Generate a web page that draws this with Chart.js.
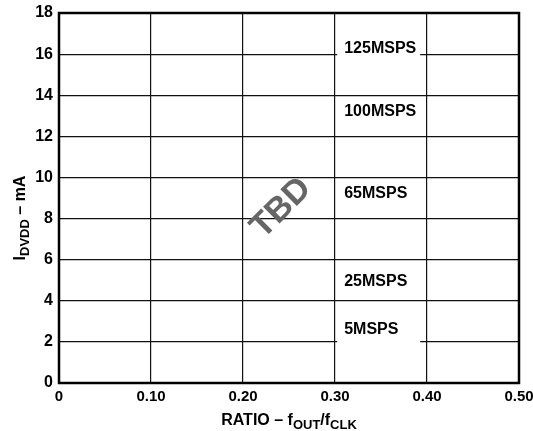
<!DOCTYPE html>
<html>
<head>
<meta charset="utf-8">
<script src="https://cdn.jsdelivr.net/npm/chart.js@4.4.1/dist/chart.umd.min.js"></script>
<style>
  body { margin: 0; background: #fff; }
  #chart { display: block; }
</style>
</head>
<body>
<canvas id="chart" width="533" height="431"></canvas>
<script>
// curve labels (no measured curves yet - datasheet says TBD)
const curveNames = ['125MSPS', '100MSPS', '65MSPS', '25MSPS', '5MSPS'];
const curveLabelY = [16.28, 13.19, 9.2, 4.91, 2.6];
const curveLabelX = 0.31;

const xTicks = [0, 0.1, 0.2, 0.3, 0.4, 0.5];
const yTicks = [0, 2, 4, 6, 8, 10, 12, 14, 16, 18];

const FONT = '"Liberation Sans", Arial, Helvetica, sans-serif';

// draw text made of normal + subscript parts, centered at (0,0) of current transform
function drawRichText(ctx, parts, size, subSize) {
    let total = 0;
    parts.forEach(p => {
        ctx.font = 'bold ' + (p.sub ? subSize : size) + 'px ' + FONT;
        p.w = ctx.measureText(p.t).width;
        total += p.w;
    });
    let x = -total / 2;
    ctx.textBaseline = 'alphabetic';
    ctx.textAlign = 'left';
    parts.forEach(p => {
        ctx.font = 'bold ' + (p.sub ? subSize : size) + 'px ' + FONT;
        ctx.fillText(p.t, x, p.sub ? 4 : 0);
        x += p.w;
    });
}

const overlay = {
    id: 'overlay',
    afterDraw(chart) {
        const ctx = chart.ctx;
        const xs = chart.scales.x, ys = chart.scales.y;
        const a = chart.chartArea;

        // frame
        ctx.save();
        ctx.strokeStyle = '#000';
        ctx.lineWidth = 2.5;
        ctx.strokeRect(a.left, a.top, a.right - a.left, a.bottom - a.top);
        ctx.restore();

        // curve labels on white boxes (boxes all the same width)
        ctx.save();
        ctx.font = 'bold 16px ' + FONT;
        ctx.textBaseline = 'middle';
        ctx.textAlign = 'left';
        curveNames.forEach((name, i) => {
            const px = xs.getPixelForValue(curveLabelX);
            const py = ys.getPixelForValue(curveLabelY[i]);
            ctx.fillStyle = '#fff';
            ctx.fillRect(px - 7, py - 11, 83, 26);
            ctx.fillStyle = '#000';
            ctx.fillText(name, px, py);
        });
        ctx.restore();

        // TBD watermark
        ctx.save();
        ctx.translate(xs.getPixelForValue(0.2416), ys.getPixelForValue(8.5));
        ctx.rotate(-Math.PI / 4);
        ctx.font = 'bold 34px ' + FONT;
        ctx.fillStyle = '#666';
        ctx.textAlign = 'center';
        ctx.textBaseline = 'middle';
        ctx.fillText('TBD', 0, 0);
        ctx.restore();

        // x title
        ctx.save();
        ctx.fillStyle = '#000';
        ctx.translate((a.left + a.right) / 2, 425);
        drawRichText(ctx, [{t: 'RATIO – f'}, {t: 'OUT', sub: true}, {t: '/f'}, {t: 'CLK', sub: true}], 16, 13);
        ctx.restore();

        // y title
        ctx.save();
        ctx.fillStyle = '#000';
        ctx.translate(25, 218);
        ctx.rotate(-Math.PI / 2);
        drawRichText(ctx, [{t: 'I'}, {t: 'DVDD', sub: true}, {t: ' – mA'}], 16, 13);
        ctx.restore();
    }
};

new Chart(document.getElementById('chart'), {
    type: 'scatter',
    data: { datasets: [{ data: [] }] },
    options: {
        responsive: false,
        animation: false,
        layout: { padding: { top: 13, right: 14, left: 0, bottom: 0 } },
        plugins: { legend: { display: false }, tooltip: { enabled: false } },
        scales: {
            x: {
                type: 'linear',
                min: xTicks[0],
                max: xTicks[xTicks.length - 1],
                afterBuildTicks: s => { s.ticks = xTicks.map(v => ({ value: v })); },
                afterFit: s => { s.height = 48; s.paddingLeft = 0; s.paddingRight = 0; },
                grid: { color: '#111', lineWidth: 1.2, drawTicks: false },
                border: { color: '#000', width: 2 },
                ticks: {
                    padding: 5,
                    color: '#000',
                    maxRotation: 0,
                    font: { family: FONT, size: 15, weight: 'bold' },
                    callback: v => v === 0 ? '0' : v.toFixed(2)
                }
            },
            y: {
                type: 'linear',
                min: yTicks[0],
                max: yTicks[yTicks.length - 1],
                afterBuildTicks: s => { s.ticks = yTicks.map(v => ({ value: v })); },
                afterFit: s => { s.width = 59; s.paddingTop = 0; s.paddingBottom = 0; },
                grid: { color: '#111', lineWidth: 1.2, drawTicks: false },
                border: { color: '#000', width: 2 },
                ticks: {
                    padding: 6,
                    color: '#000',
                    font: { family: FONT, size: 16, weight: 'bold' }
                }
            }
        }
    },
    plugins: [overlay]
});
</script>
</body>
</html>
